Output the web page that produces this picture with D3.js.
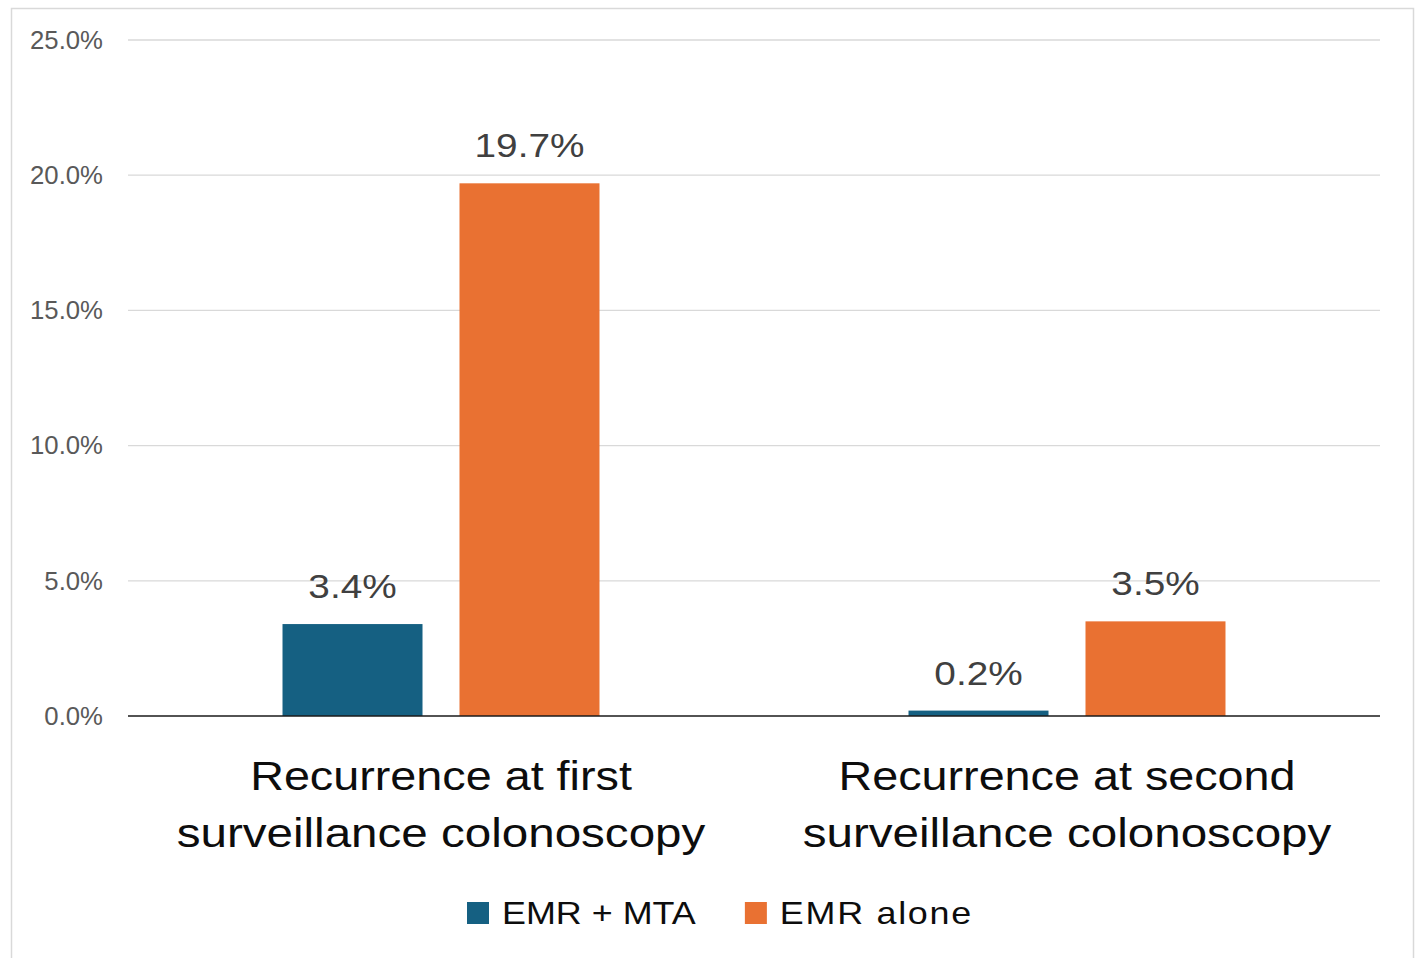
<!DOCTYPE html>
<html>
<head>
<meta charset="utf-8">
<script src="https://cdn.jsdelivr.net/npm/d3@7"></script>
<style>
  html, body { margin: 0; padding: 0; background: #ffffff; }
  svg { display: block; }
</style>
</head>
<body>
<script>
// Recurrence rates by surveillance round
const categories = [
  ["Recurrence at first", "surveillance colonoscopy"],
  ["Recurrence at second", "surveillance colonoscopy"]
];
const seriesNames = ["EMR + MTA", "EMR alone"];
const emrMta = [3.4, 0.2];
const emrAlone = [19.7, 3.5];
const yTicks = [0, 5, 10, 15, 20, 25];
const seriesColors = ["#156082", "#E97132"];

const W = 1416, H = 958;
const plot = { left: 128, right: 1380, top: 40, bottom: 716 };
const stretch = 1.14; // horizontal glyph stretch used for the large labels
const font = "'Liberation Sans', Arial, sans-serif";

const svg = d3.select("body").append("svg").attr("width", W).attr("height", H);

// chart frame
svg.append("rect")
  .attr("x", 11.5).attr("y", 8.5)
  .attr("width", 1402).attr("height", 960)
  .attr("fill", "#ffffff").attr("stroke", "#d9d9d9").attr("stroke-width", 1.5);

const catKeys = categories.map(c => c.join(" "));
const x0 = d3.scaleBand().domain(catKeys).range([plot.left, plot.right]).padding(0);
const x1 = d3.scaleBand().domain(seriesNames).range([0, x0.bandwidth()])
  .paddingInner(0.209).paddingOuter(0.873);
const y = d3.scaleLinear().domain([0, 25]).range([plot.bottom, plot.top]);

// gridlines
svg.append("g").selectAll("line").data(yTicks.filter(t => t > 0)).join("line")
  .attr("x1", plot.left).attr("x2", plot.right)
  .attr("y1", d => y(d)).attr("y2", d => y(d))
  .attr("stroke", "#d9d9d9").attr("stroke-width", 1.3);

// y axis labels
const yAxis = svg.append("g")
  .attr("transform", `translate(${plot.left - 25},0)`)
  .call(d3.axisLeft(y).tickValues(yTicks).tickFormat(d => d.toFixed(1) + "%").tickSize(0).tickPadding(0));
yAxis.select(".domain").remove();
yAxis.selectAll("text")
  .attr("font-family", font).attr("font-size", 25).attr("fill", "#595959")
  .attr("dy", "0.33em")
  .attr("transform", "scale(1.03,1)");

// bars
const rows = catKeys.map((k, i) => ({ key: k, values: [emrMta[i], emrAlone[i]] }));
const groups = svg.append("g").selectAll("g").data(rows).join("g")
  .attr("transform", d => `translate(${x0(d.key)},0)`);

groups.selectAll("rect").data(d => d.values.map((v, j) => ({ s: seriesNames[j], v, j })))
  .join("rect")
  .attr("x", d => x1(d.s)).attr("width", x1.bandwidth())
  .attr("y", d => y(d.v)).attr("height", d => y(0) - y(d.v))
  .attr("fill", d => seriesColors[d.j]);

// value labels
groups.selectAll("text.val").data(d => d.values.map((v, j) => ({ s: seriesNames[j], v, j })))
  .join("text").attr("class", "val")
  .attr("transform", d => `translate(${x1(d.s) + x1.bandwidth() / 2},${y(d.v) - 26}) scale(${stretch},1)`)
  .attr("text-anchor", "middle")
  .attr("font-family", font).attr("font-size", 34).attr("fill", "#404040")
  .text(d => d.v.toFixed(1) + "%");

// baseline
svg.append("line")
  .attr("x1", plot.left).attr("x2", plot.right)
  .attr("y1", y(0)).attr("y2", y(0))
  .attr("stroke", "#1a1a1a").attr("stroke-width", 1.6);

// category labels
const catG = svg.append("g").selectAll("g").data(categories).join("g");
catG.each(function(lines, i) {
  const cx = x0(catKeys[i]) + x0.bandwidth() / 2;
  d3.select(this).selectAll("text").data(lines).join("text")
    .attr("transform", (d, k) => `translate(${cx},${790 + k * 57}) scale(${k ? 1.16 : stretch},1)`)
    .attr("text-anchor", "middle")
    .attr("font-family", font).attr("font-size", 41).attr("fill", "#0d0d0d")
    .text(d => d);
});

// legend
const legend = svg.append("g");
const items = legend.selectAll("g").data(seriesNames).join("g");
items.append("rect").attr("width", 22).attr("height", 22)
  .attr("y", 902).attr("fill", (d, i) => seriesColors[i]);
items.append("text")
  .attr("font-family", font).attr("font-size", 31.5).attr("fill", "#0d0d0d")
  .attr("letter-spacing", (d, i) => i ? 1.5 : 0)
  .text(d => d);
let cursor = 467;
items.each(function() {
  const g = d3.select(this);
  const t = g.select("text");
  const w = t.node().getComputedTextLength() * stretch;
  g.select("rect").attr("x", cursor);
  t.attr("transform", `translate(${cursor + 35},924) scale(${stretch},1)`);
  cursor += 35 + w + 49;
});
</script>
</body>
</html>
